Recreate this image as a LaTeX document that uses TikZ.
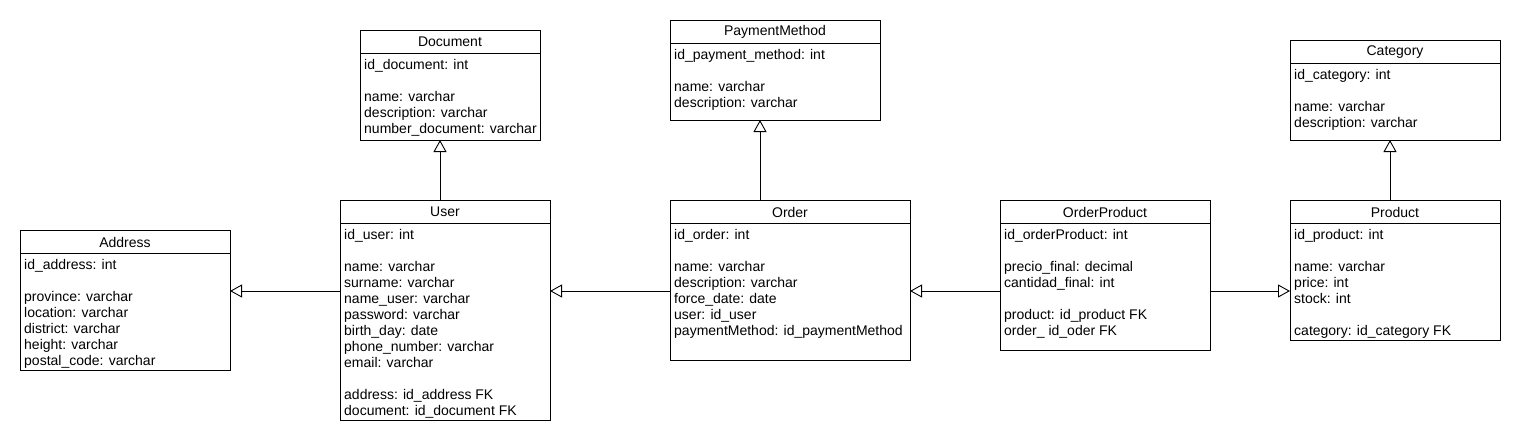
\documentclass[tikz,border=0pt]{standalone}
\usepackage{fontspec}
\setmainfont{Liberation Sans}
\usetikzlibrary{arrows.meta,calc}
\tikzset{
  cls/.style={draw, line width=0.9pt, anchor=north west, inner sep=0pt, outer sep=0pt},
  ttl/.style={font=\fontsize{14}{16}\selectfont, inner sep=0pt},
  attrs/.style={font=\fontsize{14}{16}\selectfont, align=left, anchor=north west, inner sep=0pt},
  divider/.style={line width=0.9pt},
  gen/.style={draw, line width=0.9pt, -{Triangle[open, length=12pt, width=13pt, fill=white]}},
}
\newcommand\umlclass[7]{%
  \node[cls, minimum width=#4pt, minimum height=#5pt] (#1) at (#2pt,-#3pt) {};
  \draw[divider] ([yshift=-23pt]#1.north west) -- ([yshift=-23pt]#1.north east);
  \node[ttl] (#1-t) at ([yshift=-12pt]#1.north) {#6};
  \node[attrs] (#1-a) at ([xshift=4pt,yshift=-27.8pt]#1.north west) {\strut #7};
}
\begin{document}
\begin{tikzpicture}
\fill[white] (0,0) rectangle (1520pt,-440pt);
\useasboundingbox (0,0) rectangle (1520pt,-440pt);

\umlclass{address}{20}{230}{210}{140}{Address}{id\_address: int\\ ~\\province: varchar\\location: varchar\\district: varchar\\height: varchar\\postal\_code: varchar}
\umlclass{document}{360}{30}{180}{110}{Document}{id\_document: int\\ ~\\name: varchar\\description: varchar\\number\_document: varchar}
\umlclass{user}{340}{200}{210}{220}{User}{id\_user: int\\ ~\\name: varchar\\surname: varchar\\name\_user: varchar\\password: varchar\\birth\_day: date\\phone\_number: varchar\\email: varchar\\ ~\\address: id\_address FK\\document: id\_document FK}
\umlclass{payment}{670}{20}{210}{100}{PaymentMethod}{id\_payment\_method: int\\ ~\\name: varchar\\description: varchar}
\umlclass{order}{670}{200}{240}{160}{Order}{id\_order: int\\ ~\\name: varchar\\description: varchar\\force\_date: date\\user: id\_user\\paymentMethod: id\_paymentMethod}
\umlclass{orderproduct}{1000}{200}{210}{150}{OrderProduct}{id\_orderProduct: int\\ ~\\precio\_final: decimal\\cantidad\_final: int\\ ~\\product: id\_product FK\\order\_ id\_oder FK}
\umlclass{category}{1290}{40}{210}{100}{Category}{id\_category: int\\ ~\\name: varchar\\description: varchar}
\umlclass{product}{1290}{200}{210}{140}{Product}{id\_product: int\\ ~\\name: varchar\\price: int\\stock: int\\ ~\\category: id\_category FK}

\coordinate (hrow) at (0pt,-291pt);
\coordinate (xdoc) at (440pt,0pt);
\coordinate (xpay) at (760pt,0pt);
\coordinate (xcat) at (1390pt,0pt);

\draw[gen] (user.west |- hrow) -- (address.east |- hrow);
\draw[gen] (order.west |- hrow) -- (user.east |- hrow);
\draw[gen] (orderproduct.west |- hrow) -- (order.east |- hrow);
\draw[gen] (orderproduct.east |- hrow) -- (product.west |- hrow);
\draw[gen] (user.north -| xdoc) -- (document.south -| xdoc);
\draw[gen] (order.north -| xpay) -- (payment.south -| xpay);
\draw[gen] (product.north -| xcat) -- (category.south -| xcat);
\end{tikzpicture}
\end{document}
